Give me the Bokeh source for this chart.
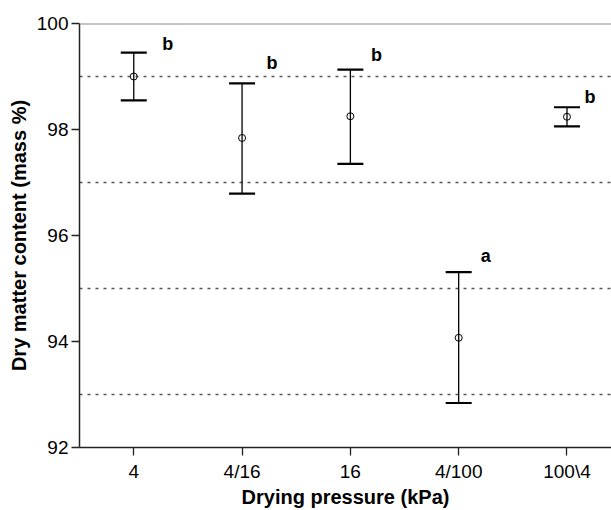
from bokeh.plotting import figure
from bokeh.models import ColumnDataSource, Whisker, TeeHead, FixedTicker, Span
from bokeh.core.properties import value
from bokeh.embed import file_html
from bokeh.resources import INLINE

# ---- data ----
categories = ["4", "4/16", "16", "4/100", "100\\4"]
means = [99.00, 97.84, 98.25, 94.07, 98.24]
upper = [99.45, 98.87, 99.13, 95.31, 98.42]
lower = [98.55, 96.79, 97.35, 92.84, 98.06]
letters = ["b", "b", "b", "a", "b"]
letter_y = [99.62, 99.25, 99.40, 95.62, 98.62]
y_ticks = [92, 94, 96, 98, 100]
ref_lines = [93, 95, 97, 99]

# style-only offsets for the significance letters (pixels)
letter_dx = [34, 30, 26, 27, 23]

FONT = "Liberation Sans"
xs = list(range(len(categories)))

src = ColumnDataSource(dict(x=xs, mean=means, upper=upper, lower=lower))
lsrc = ColumnDataSource(dict(x=xs, y=letter_y, t=letters, dx=letter_dx))

p = figure(width=611, height=510, output_backend="svg", toolbar_location=None,
           x_range=(-0.501, 4.411), y_range=(92, 100),
           min_border_left=79, min_border_right=0, min_border_top=23,
           min_border_bottom=63)
p.outline_line_color = None
p.background_fill_color = "white"
p.border_fill_color = "white"

# axes
for ax in (p.xaxis[0], p.yaxis[0]):
    ax.axis_line_color = "#222222"
    ax.axis_line_width = 1.5
    ax.major_tick_line_color = "#222222"
    ax.major_tick_line_width = 1.3
    ax.major_tick_out = 8
    ax.major_tick_in = 0
    ax.minor_tick_line_color = None
    ax.major_label_text_font = FONT
    ax.major_label_text_font_size = "19px"
    ax.major_label_text_color = "black"
    ax.axis_label_text_font = FONT
    ax.axis_label_text_font_size = "20px"
    ax.axis_label_text_font_style = "bold"
    ax.axis_label_text_color = "black"

p.xaxis.ticker = FixedTicker(ticks=xs)
p.xaxis.major_label_overrides = {i: c for i, c in zip(xs, categories)}
p.xaxis.major_label_standoff = 5
p.xaxis.axis_label = "Drying pressure (kPa)"
p.xaxis.axis_label_standoff = 1

p.yaxis.ticker = FixedTicker(ticks=y_ticks)
p.yaxis.major_label_standoff = 3
p.yaxis.axis_label = "Dry matter content (mass %)"
p.yaxis.axis_label_standoff = 4

# dotted reference lines
p.xgrid.grid_line_color = None
p.ygrid.ticker = FixedTicker(ticks=ref_lines)
p.ygrid.grid_line_color = "#555555"
p.ygrid.grid_line_width = 1.5
p.ygrid.grid_line_dash = "3 5"

# top border line
p.add_layout(Span(location=100, dimension="width", line_color="#8a8a8a", line_width=2))

# error bars
w = Whisker(source=src, base="x", upper="upper", lower="lower",
            line_color="black", line_width=1.3,
            upper_head=TeeHead(size=26, line_width=2.2, line_color="black"),
            lower_head=TeeHead(size=26, line_width=2.2, line_color="black"))
p.add_layout(w)

p.scatter("x", "mean", source=src, marker="circle", size=7,
          fill_color=None, line_color="black", line_width=1)

p.text("x", "y", text="t", source=lsrc, x_offset="dx",
       text_font=value(FONT), text_font_size="18px", text_font_style="bold",
       text_align="center", text_baseline="middle", text_color="black")

open("out.html", "w").write(file_html(p, INLINE))
